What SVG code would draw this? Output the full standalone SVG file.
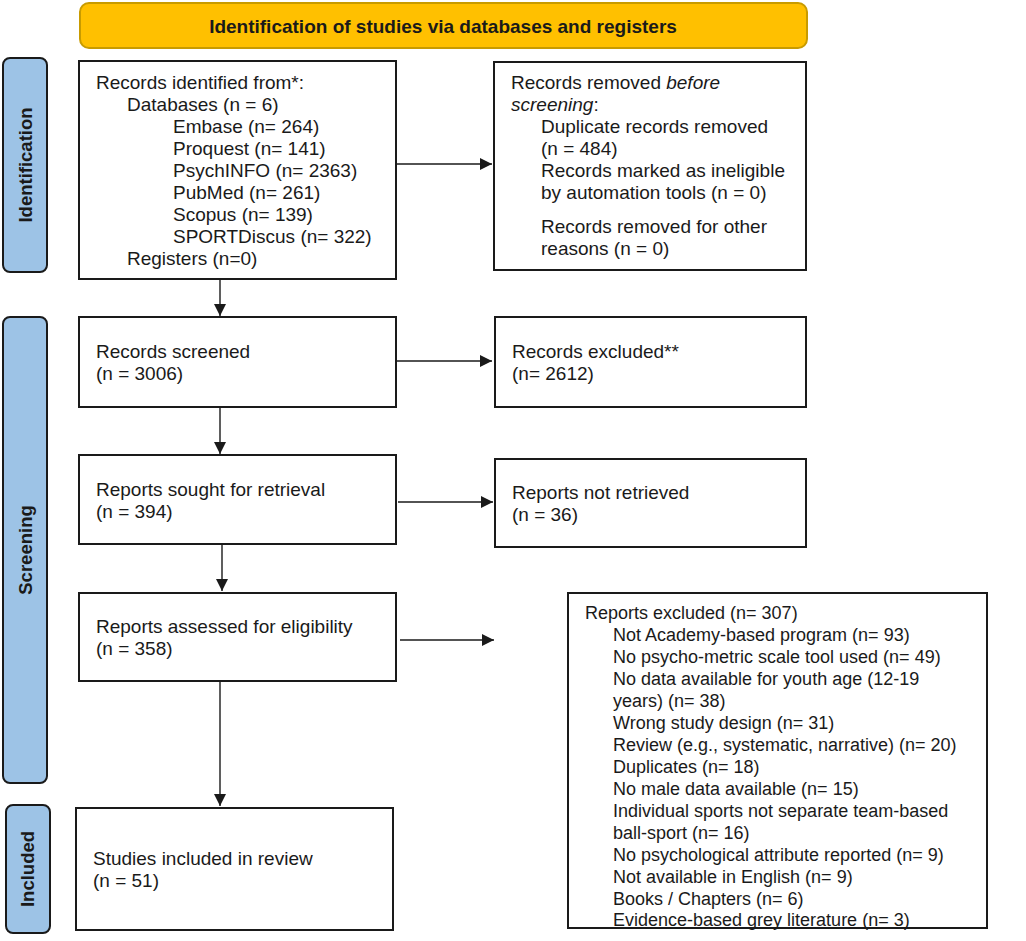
<svg xmlns="http://www.w3.org/2000/svg" width="1026" height="941" viewBox="0 0 1026 941">
<style>
.box{fill:#fff;stroke:#1a1a1a;stroke-width:2}
.side{fill:#9dc3e6;stroke:#1a1a1a;stroke-width:2}
.t{font-family:"Liberation Sans",Arial,sans-serif;font-size:19px;fill:#1a1a1a}
.s{font-family:"Liberation Sans",Arial,sans-serif;font-size:18px;fill:#1a1a1a}
.lab{font-family:"Liberation Sans",Arial,sans-serif;font-size:18.5px;font-weight:bold;fill:#1a1a1a}
.con{stroke:#1a1a1a;stroke-width:1.4;fill:none;marker-end:url(#arr)}
</style>
<defs>
<marker id="arr" markerUnits="userSpaceOnUse" viewBox="0 0 12 12" refX="12" refY="6" markerWidth="12" markerHeight="12" orient="auto">
<path d="M0,0 L12,6 L0,12 z" fill="#1a1a1a"/>
</marker>
</defs>
<rect width="1026" height="941" fill="#fff"/>

<g id="banner">
<rect x="80" y="3" width="727" height="45" rx="9" fill="#ffc000" stroke="#c89b00" stroke-width="2"/>
<text x="443" y="33" text-anchor="middle" class="lab" style="font-size:19px">Identification of studies via databases and registers</text>
</g>

<g id="side-identification">
<rect x="3" y="58" width="44" height="214" rx="7" class="side"/>
<text transform="translate(32,165) rotate(-90)" text-anchor="middle" class="lab">Identification</text>
</g>
<g id="side-screening">
<rect x="3" y="317" width="44" height="466" rx="7" class="side"/>
<text transform="translate(32,550) rotate(-90)" text-anchor="middle" class="lab">Screening</text>
</g>
<g id="side-included">
<rect x="6" y="805" width="44" height="128" rx="7" class="side"/>
<text transform="translate(34,869) rotate(-90)" text-anchor="middle" class="lab">Included</text>
</g>

<g id="records-identified">
<rect x="79" y="61" width="317" height="218" class="box"/>
<text class="t">
<tspan x="96" y="89">Records identified from*:</tspan>
<tspan x="127" y="111">Databases (n = 6)</tspan>
<tspan x="173" y="133">Embase (n= 264)</tspan>
<tspan x="173" y="155">Proquest (n= 141)</tspan>
<tspan x="173" y="177">PsychINFO (n= 2363)</tspan>
<tspan x="173" y="199">PubMed (n= 261)</tspan>
<tspan x="173" y="221">Scopus (n= 139)</tspan>
<tspan x="173" y="243">SPORTDiscus (n= 322)</tspan>
<tspan x="127" y="265">Registers (n=0)</tspan>
</text>
</g>

<g id="records-removed">
<rect x="494" y="62" width="312" height="208" class="box"/>
<text class="t">
<tspan x="511" y="89">Records removed <tspan font-style="italic">before</tspan></tspan>
<tspan x="511" y="111"><tspan font-style="italic">screening</tspan>:</tspan>
<tspan x="541" y="133">Duplicate records removed</tspan>
<tspan x="541" y="155">(n = 484)</tspan>
<tspan x="541" y="177">Records marked as ineligible</tspan>
<tspan x="541" y="199">by automation tools (n = 0)</tspan>
<tspan x="541" y="233">Records removed for other</tspan>
<tspan x="541" y="255">reasons (n = 0)</tspan>
</text>
</g>

<g id="records-screened">
<rect x="79" y="317" width="317" height="90" class="box"/>
<text class="t"><tspan x="96" y="358">Records screened</tspan><tspan x="96" y="380">(n = 3006)</tspan></text>
</g>

<g id="records-excluded">
<rect x="495" y="317" width="311" height="90" class="box"/>
<text class="t"><tspan x="512" y="358">Records excluded**</tspan><tspan x="512" y="380">(n= 2612)</tspan></text>
</g>

<g id="reports-sought">
<rect x="79" y="455" width="317" height="89" class="box"/>
<text class="t"><tspan x="96" y="496">Reports sought for retrieval</tspan><tspan x="96" y="518">(n = 394)</tspan></text>
</g>

<g id="reports-not-retrieved">
<rect x="495" y="459" width="311" height="88" class="box"/>
<text class="t"><tspan x="512" y="499">Reports not retrieved</tspan><tspan x="512" y="521">(n = 36)</tspan></text>
</g>

<g id="reports-assessed">
<rect x="79" y="593" width="317" height="88" class="box"/>
<text class="t"><tspan x="96" y="633">Reports assessed for eligibility</tspan><tspan x="96" y="655">(n = 358)</tspan></text>
</g>

<g id="reports-excluded">
<rect x="568" y="593" width="419" height="335" class="box"/>
<text class="s">
<tspan x="585" y="619">Reports excluded (n= 307)</tspan>
<tspan x="613" y="641">Not Academy-based program (n= 93)</tspan>
<tspan x="613" y="663">No psycho-metric scale tool used (n= 49)</tspan>
<tspan x="613" y="685">No data available for youth age (12-19</tspan>
<tspan x="613" y="707">years) (n= 38)</tspan>
<tspan x="613" y="729">Wrong study design (n= 31)</tspan>
<tspan x="613" y="751">Review (e.g., systematic, narrative) (n= 20)</tspan>
<tspan x="613" y="773">Duplicates (n= 18)</tspan>
<tspan x="613" y="795">No male data available (n= 15)</tspan>
<tspan x="613" y="817">Individual sports not separate team-based</tspan>
<tspan x="613" y="839">ball-sport (n= 16)</tspan>
<tspan x="613" y="861">No psychological attribute reported (n= 9)</tspan>
<tspan x="613" y="883">Not available in English (n= 9)</tspan>
<tspan x="613" y="905">Books / Chapters (n= 6)</tspan>
<tspan x="613" y="926">Evidence-based grey literature (n= 3)</tspan>
</text>
</g>

<g id="studies-included">
<rect x="76" y="808" width="317" height="122" class="box"/>
<text class="t"><tspan x="93" y="865">Studies included in review</tspan><tspan x="93" y="887">(n = 51)</tspan></text>
</g>

<g id="connectors">
<line x1="396" y1="164" x2="492" y2="164" class="con"/>
<line x1="220" y1="279" x2="220" y2="316" class="con"/>
<line x1="396" y1="361" x2="492" y2="361" class="con"/>
<line x1="220" y1="407" x2="220" y2="454" class="con"/>
<line x1="398" y1="502" x2="493" y2="502" class="con"/>
<line x1="222" y1="544" x2="222" y2="591" class="con"/>
<line x1="400" y1="640" x2="494" y2="640" class="con"/>
<line x1="220" y1="681" x2="220" y2="806" class="con"/>
</g>
</svg>
